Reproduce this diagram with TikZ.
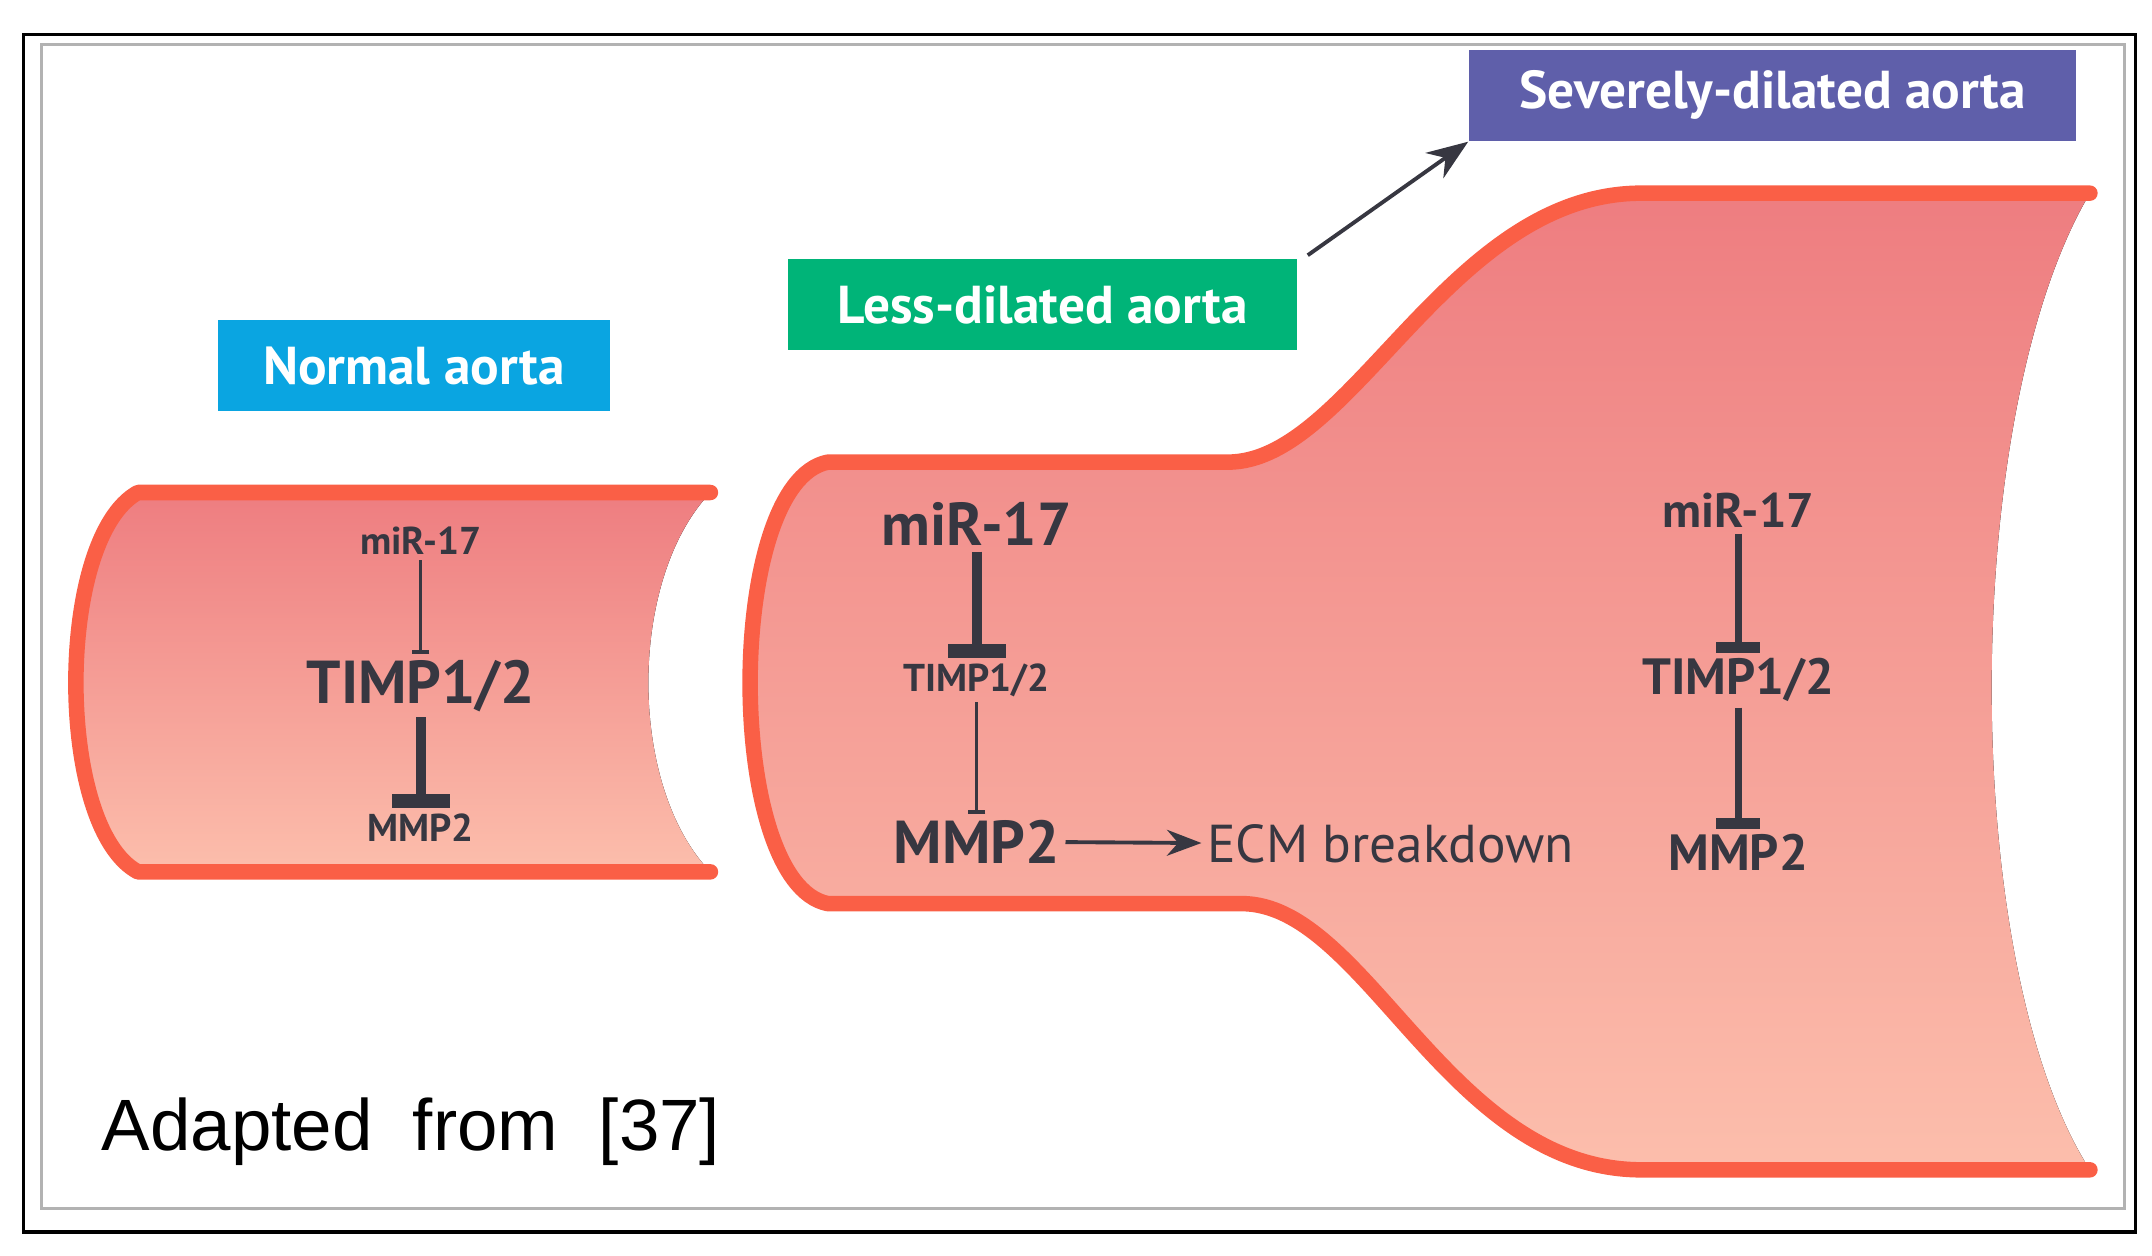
\documentclass[tikz,border=0pt]{standalone}
\usepackage{fontspec}
\setmainfont{PT Sans}
\newfontfamily\capfont{Liberation Sans}
\usetikzlibrary{arrows.meta}
\definecolor{wallred}{RGB}{250,95,70}
\definecolor{fillTop}{RGB}{238,125,128}
\definecolor{fillBot}{RGB}{252,190,172}
\definecolor{txtgray}{RGB}{55,55,65}
\definecolor{normblue}{RGB}{10,165,225}
\definecolor{lessgreen}{RGB}{0,180,120}
\definecolor{sevpurple}{RGB}{95,95,170}
\tikzset{
  wall/.style={wallred, line width=3.2pt, line cap=round, line join=round},
  lumen/.style={top color=fillTop, bottom color=fillBot, draw=none},
  tag/.style={text=white, font=\bfseries\fontsize{11}{11}\selectfont, inner sep=0pt, minimum height=6.6mm},
  gene/.style={text=txtgray, font=\bfseries\fontsize{#1}{#1}\selectfont, inner sep=1pt},
  inhib/.style={draw=txtgray, line width=#1, -{Bar[width=6*#1, line width=1.4*#1]}},
}
\begin{document}
\begin{tikzpicture}[x=0.1mm, y=-0.1mm]
\useasboundingbox (0,0) rectangle (1560,910);
%frame
\draw [black, line width=0.8pt] (17,25) rectangle (1548,893);
\draw [gray!60, line width=0.6pt] (30,32) rectangle (1540,876);

%normal aorta
\fill [lumen] (100,357) -- (515,357) .. controls (455,420) and (455,570) .. (515,632)
  -- (100,632) .. controls (40,600) and (40,390) .. (100,357) -- cycle;
\draw [wall] (515,357) -- (100,357) .. controls (40,390) and (40,600) .. (100,632) -- (515,632);

%dilated aorta
\fill [lumen] (600,335) -- (890,335) .. controls (980,335) and (1050,140) .. (1190,140)
  -- (1515,140) .. controls (1420,300) and (1420,700) .. (1515,848)
  -- (1190,848) .. controls (1050,848) and (990,655) .. (900,655)
  -- (600,655) .. controls (525,640) and (525,350) .. (600,335) -- cycle;
\draw [wall] (1515,140) -- (1190,140) .. controls (1050,140) and (980,335) .. (890,335)
  -- (600,335) .. controls (525,350) and (525,640) .. (600,655)
  -- (900,655) .. controls (990,655) and (1050,848) .. (1190,848) -- (1515,848);

%stage labels
\node [tag, fill=normblue, minimum width=28.4mm] (normal) at (300,265) {Normal aorta};
\node [tag, fill=lessgreen, minimum width=36.9mm] (less) at (756,221) {Less-dilated aorta};
\node [tag, fill=sevpurple, minimum width=44mm] (severe) at (1285,69) {Severely-dilated aorta};
\draw [-{Stealth[length=3mm]}, txtgray, line width=0.8pt] (948,185) -- (severe.south west);

%normal
\node [gene=8] (mirA) at (305,392) {miR-17};
\node [gene=12.5] (timpA) at (305,497) {TIMP1/2};
\node [gene=8] (mmpA) at (305,600) {MMP2};
\draw [inhib=0.6pt] (mirA) -- (timpA);
\draw [inhib=2pt] (timpA) -- (mmpA);

%less dilated
\node [gene=12.5] (mirB) at (708,380) {miR-17};
\node [gene=8] (timpB) at (708,493) {TIMP1/2};
\node [gene=12.5] (mmpB) at (708,610) {MMP2};
\node [gene=11, font=\fontsize{11}{11}\selectfont] (ecm) at (1008,612) {ECM breakdown};
\draw [inhib=2pt] (mirB) -- (timpB);
\draw [inhib=0.6pt] (timpB) -- (mmpB);
\draw [-{Stealth[length=2.5mm]}, txtgray, line width=0.8pt] (mmpB) -- (ecm);

%severely dilated
\node [gene=10] (mirC) at (1260,370) {miR-17};
\node [gene=10.5] (timpC) at (1260,493) {TIMP1/2};
\node [gene=10.5] (mmpC) at (1260,618) {MMP2};
\draw [inhib=1.5pt] (mirC) -- (timpC);
\draw [inhib=1.5pt] (timpC) -- (mmpC);

\node [font=\capfont\fontsize{15}{15}\selectfont, anchor=west, inner sep=0pt] (src) at (73,820) {Adapted\ \ from\ \ [37]};
\end{tikzpicture}
\end{document}
